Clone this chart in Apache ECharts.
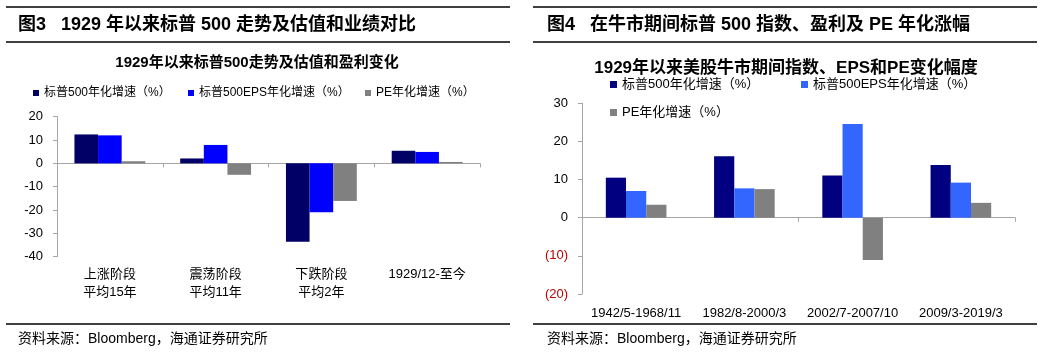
<!DOCTYPE html>
<html>
<head>
<meta charset="utf-8">
<script src="https://cdn.jsdelivr.net/npm/echarts@6/dist/echarts.min.js"></script>
<style>
  html, body { margin: 0; padding: 0; background: #fff; }
  #main { width: 1054px; height: 354px; }
</style>
</head>
<body>
<div id="main"></div>
<script>
// 图3 数据
const leftCats = ['上涨阶段\n平均15年', '震荡阶段\n平均11年', '下跌阶段\n平均2年', '1929/12-至今'];
const leftIndex = [12.4, 2.1, -33.6, 5.4];
const leftEps = [12.0, 7.9, -20.9, 4.9];
const leftPe = [0.9, -4.9, -16.1, 0.6];

// 图4 数据
const rightCats = ['1942/5-1968/11', '1982/8-2000/3', '2002/7-2007/10', '2009/3-2019/3'];
const rightIndex = [10.5, 16.1, 11.1, 13.8];
const rightEps = [7.0, 7.7, 24.6, 9.2];
const rightPe = [3.4, 7.5, -11.1, 3.9];

const nameIdx = '标普500年化增速（%）';
const nameEps = '标普500EPS年化增速（%）';
const namePe = 'PE年化增速（%）';

const FONT = '"Liberation Sans", Arial, "Noto Sans CJK SC", sans-serif';
const axisGray = '#a6a6a6';

let chart = echarts.init(document.getElementById('main'));

function rule(x1, x2, y) {
  return { type: 'line', shape: { x1: x1, y1: y, x2: x2, y2: y }, style: { stroke: '#000', lineWidth: 1.5 }, silent: true };
}
function txt(x, y, s, size, bold, align) {
  return {
    type: 'text', x: x, y: y, silent: true,
    style: { text: s, fill: '#000', fontSize: size, fontWeight: bold ? 'bold' : 'normal',
      fontFamily: FONT, align: align || 'left', verticalAlign: 'middle' }
  };
}
function lg(left, top, name, color, size, w) {
  return {
    left: left, top: top, itemWidth: w, itemHeight: w, icon: 'rect', selectedMode: false,
    textStyle: { fontSize: size, color: '#000', fontFamily: FONT },
    data: [{ name: name, itemStyle: { color: color } }]
  };
}

// 两个图：0 号x轴画零线和刻度，1 号x轴只放底部标签
function catAxes(grid, cats, lblMargin) {
  return [
    { gridIndex: grid, type: 'category', data: cats,
      axisLine: { onZero: true, lineStyle: { color: axisGray } },
      axisTick: { show: true, length: 4, lineStyle: { color: axisGray } },
      axisLabel: { show: false } },
    { gridIndex: grid, type: 'category', data: cats, position: 'bottom',
      axisLine: { show: false, onZero: false }, axisTick: { show: false },
      axisLabel: { interval: 0, margin: lblMargin, fontSize: 13, lineHeight: 18, color: '#000', fontFamily: FONT } }
  ];
}

chart.setOption({
  animation: false,
  graphic: [
    rule(6, 510, 7), rule(6, 510, 42), rule(6, 510, 324),
    rule(533, 1037, 7), rule(533, 1037, 42), rule(533, 1037, 324),
    txt(18, 25, '图3   1929 年以来标普 500 走势及估值和业绩对比', 18, true),
    txt(547, 25, '图4   在牛市期间标普 500 指数、盈利及 PE 年化涨幅', 18, true),
    txt(257, 63, '1929年以来标普500走势及估值和盈利变化', 15, true, 'center'),
    txt(786, 68, '1929年以来美股牛市期间指数、EPS和PE变化幅度', 17, true, 'center'),
    txt(18, 339, '资料来源：Bloomberg，海通证券研究所', 14, false),
    txt(547, 339, '资料来源：Bloomberg，海通证券研究所', 14, false)
  ],
  legend: [
    lg(28, 82, nameIdx, '#000066', 12, 6),
    lg(183, 82, nameEps, '#0000ff', 12, 6),
    lg(360, 82, namePe, '#808080', 12, 6),
    lg(605, 73, nameIdx, '#000080', 13, 7),
    lg(796, 73, nameEps, '#3366ff', 13, 7),
    lg(605, 101, namePe, '#808080', 13, 7)
  ],
  grid: [
    { left: 57, top: 116.7, width: 423, height: 140 },
    { left: 582, top: 103.3, width: 433, height: 190.7 }
  ],
  xAxis: catAxes(0, leftCats, 9).concat(catAxes(1, rightCats, 10)),
  yAxis: [
    { gridIndex: 0, type: 'value', min: -40, max: 20, interval: 10,
      splitLine: { show: false },
      axisLine: { show: true, lineStyle: { color: axisGray } },
      axisTick: { show: true, length: 4, lineStyle: { color: axisGray } },
      axisLabel: { fontSize: 13, color: '#000', margin: 14, fontFamily: FONT } },
    { gridIndex: 1, type: 'value', min: -20, max: 30, interval: 10,
      splitLine: { show: false },
      axisLine: { show: true, lineStyle: { color: axisGray } },
      axisTick: { show: true, length: 4, lineStyle: { color: axisGray } },
      axisLabel: { fontSize: 13, margin: 14, fontFamily: FONT,
        color: function (v) { return v < 0 ? '#c00000' : '#000'; },
        formatter: function (v) { return v < 0 ? '(' + Math.abs(v) + ')' : String(v); } } }
  ],
  series: [
    { name: nameIdx, type: 'bar', xAxisIndex: 0, yAxisIndex: 0, data: leftIndex,
      barGap: '0%', barCategoryGap: '33%', itemStyle: { color: '#000066' } },
    { name: nameEps, type: 'bar', xAxisIndex: 0, yAxisIndex: 0, data: leftEps,
      barGap: '0%', barCategoryGap: '33%', itemStyle: { color: '#0000ff' } },
    { name: namePe, type: 'bar', xAxisIndex: 0, yAxisIndex: 0, data: leftPe,
      barGap: '0%', barCategoryGap: '33%', itemStyle: { color: '#808080' } },
    { name: nameIdx, type: 'bar', xAxisIndex: 2, yAxisIndex: 1, data: rightIndex,
      barGap: '0%', barCategoryGap: '44%', itemStyle: { color: '#000080' } },
    { name: nameEps, type: 'bar', xAxisIndex: 2, yAxisIndex: 1, data: rightEps,
      barGap: '0%', barCategoryGap: '44%', itemStyle: { color: '#3366ff' } },
    { name: namePe, type: 'bar', xAxisIndex: 2, yAxisIndex: 1, data: rightPe,
      barGap: '0%', barCategoryGap: '44%', itemStyle: { color: '#808080' } }
  ]
});
</script>
</body>
</html>
